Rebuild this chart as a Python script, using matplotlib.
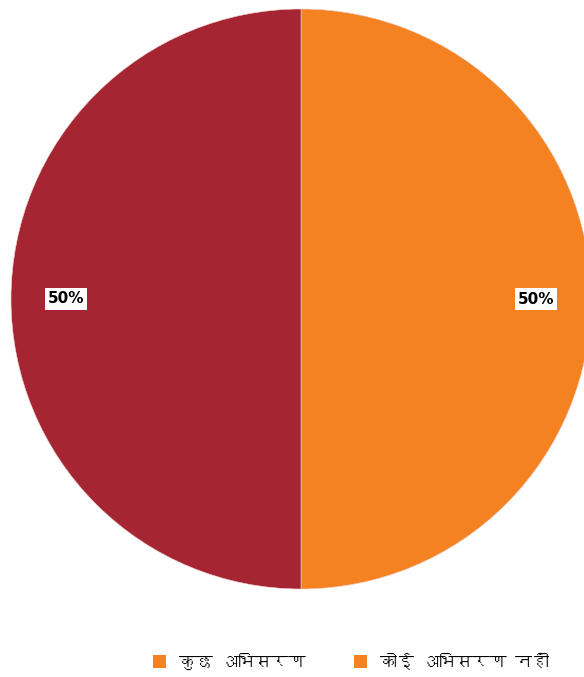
import matplotlib
matplotlib.use('Agg')
import matplotlib.pyplot as plt
from matplotlib import font_manager
from matplotlib.ft2font import FT2Font
from matplotlib.patches import Patch

labels = ['कुछ अभिसरण', 'कोई अभिसरण नहीं']
values = [50, 50]
colors = ['#F58220', '#A52532']
legend_colors = ['#F58220', '#F58220']


def FindDevanagariFont():
    # look for any installed font that has the Devanagari letter "ka"
    for f in font_manager.fontManager.ttflist:
        try:
            if 0x0915 in FT2Font(f.fname).get_charmap():
                return f.name
        except Exception:
            pass
    return None


deva = FindDevanagariFont()
families = [deva, 'DejaVu Sans'] if deva else ['Noto Sans', 'DejaVu Sans']
plt.rcParams['font.family'] = families

fig = plt.figure(figsize=(5.84, 6.77), dpi=100)
ax = fig.add_axes([11 / 584, 88 / 677, 580 / 584, 580 / 677])
wedges, texts, autotexts = ax.pie(values, colors=colors, startangle=90, counterclock=False,
                                  autopct='%d%%', pctdistance=0.81,
                                  wedgeprops=dict(linewidth=0.4, edgecolor='#f0d0d0'))
for t in autotexts:
    t.set_color('black')
    t.set_fontsize(11)
    t.set_fontweight('bold')
    t.set_family('DejaVu Sans')
    t.set_bbox(dict(facecolor='white', edgecolor='none', pad=2.2))
ax.set_xlim(-1, 1)
ax.set_ylim(-1, 1)

handles = [Patch(facecolor=c, edgecolor='none') for c in legend_colors]
fig.legend(handles, labels, loc='center', bbox_to_anchor=(0.601, 1 - 661 / 677), ncol=2,
           frameon=False, fontsize=12.2, handlelength=0.75, handleheight=0.75,
           handletextpad=0.75, columnspacing=2.9)

fig.savefig('out.png', dpi=100)
